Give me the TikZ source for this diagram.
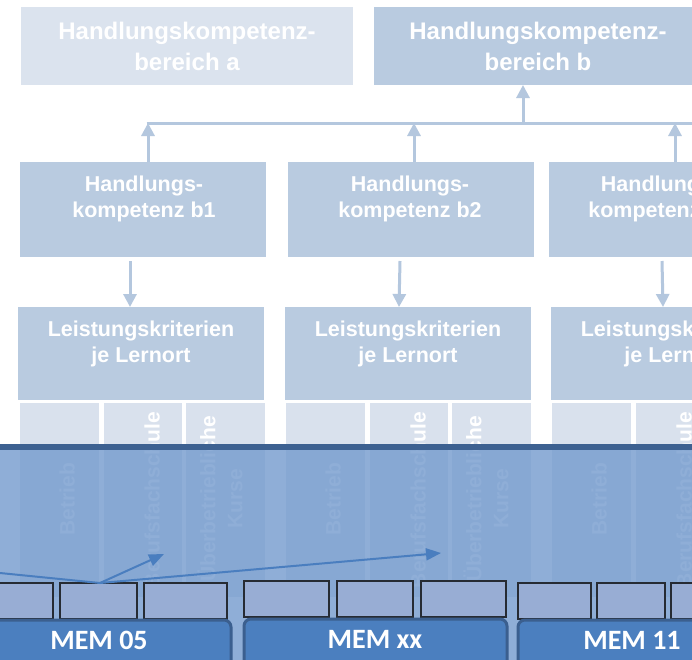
\documentclass[tikz,border=0pt]{standalone}
\usepackage{fontspec}
\setmainfont{Liberation Sans}
\newfontfamily\memfont{Carlito}
\usetikzlibrary{arrows.meta}
\definecolor{boxa}{HTML}{DBE3EE}
\definecolor{boxb}{HTML}{B9CBE0}
\definecolor{colf}{HTML}{D9E1ED}
\definecolor{arrl}{HTML}{B4C7DE}
\definecolor{ovl}{RGB}{115,154,205}
\definecolor{ovline}{HTML}{3D6191}
\definecolor{smallf}{HTML}{98ADD4}
\definecolor{smalld}{HTML}{262B33}
\definecolor{memf}{HTML}{4B7FBF}
\definecolor{memd}{HTML}{3B5F8F}
\definecolor{blarr}{HTML}{4A7EBF}
\begin{document}
\begin{tikzpicture}[x=1pt,y=-1pt,
  rbox/.style={inner sep=0pt, outer sep=0pt, anchor=north west},
  topbox/.style={rbox, minimum width=332pt, minimum height=78pt},
  midbox/.style={rbox, fill=boxb, minimum width=246pt, minimum height=95pt},
  lkbox/.style={rbox, fill=boxb, minimum width=246pt, minimum height=93pt},
  colbox/.style={rbox, fill=colf, minimum width=79pt, minimum height=194pt},
  toptxt/.style={text=white, align=center, font=\fontsize{24}{31}\selectfont\bfseries},
  midtxt/.style={text=white, align=center, font=\fontsize{21.5}{26}\selectfont\bfseries},
  coltxt/.style={text=white, align=center, rotate=90, font=\fontsize{21}{27}\selectfont\bfseries},
  lline/.style={draw=arrl, line width=3pt},
  larr/.style={draw=arrl, line width=3pt, -{Triangle[width=13pt,length=13pt]}},
  barr/.style={draw=blarr, line width=2pt, -{Triangle[width=12pt,length=15pt]}},
  sbox/.style={rbox, fill=smallf, draw=smalld, line width=1.5pt, minimum height=36pt},
  membox/.style={rbox, fill=memf, draw=memd, line width=3pt, rounded corners=7pt, minimum height=60pt},
  memtxt/.style={text=white, font=\fontsize{28}{32}\memfont\bfseries}
]
\useasboundingbox (0,0) rectangle (692,659);
\clip (0,0) rectangle (692,659);
\fill[white] (0,0) rectangle (692,659);

% top level
\node[topbox, fill=boxa] (A) at (21,7) {};
\node[topbox, fill=boxb] (B) at (374,7) {};
\node[toptxt] (tA) at (187,46) {Handlungskompetenz-\\bereich a};
\node[toptxt] (tB) at (538,46) {Handlungskompetenz-\\bereich b};

% middle level
\node[midbox] (hb1) at (20,162) {};
\node[midbox] (hb2) at (288,162) {};
\node[midbox] (hb3) at (549,162) {};
\node[midtxt] (thb1) at (144,199) {Handlungs-\\kompetenz b1};
\node[midtxt] (thb2) at (410,199) {Handlungs-\\kompetenz b2};
\node[midtxt] (thb3) at (660,199) {Handlungs-\\kompetenz b3};

% criteria level
\node[lkbox] (lk1) at (18,307) {};
\node[lkbox] (lk2) at (285,307) {};
\node[lkbox] (lk3) at (551,307) {};
\node[midtxt] (tlk1) at (141,344) {Leistungskriterien\\je Lernort};
\node[midtxt] (tlk2) at (408,344) {Leistungskriterien\\je Lernort};
\node[midtxt] (tlk3) at (674,344) {Leistungskriterien\\je Lernort};

% connectors (light)
\coordinate (h1) at (148,123);
\coordinate (h2) at (414,123);
\coordinate (h3) at (675,123);
\coordinate (hB) at (523,123);
\coordinate (hR) at (700,123);
\draw[lline] ([xshift=-1.5pt]h1) -- (hR);
\draw[larr] (h1 |- hb1.north) -- (h1);
\draw[larr] (h2 |- hb2.north) -- (h2);
\draw[larr] (h3 |- hb3.north) -- (h3);
\draw[larr] (hB) -- (hB |- B.south);
\draw[larr] ([xshift=-13pt,yshift=-4pt]hb1.south) -- ([xshift=-11pt]lk1.north);
\draw[larr] ([xshift=-11pt,yshift=-4pt]hb2.south) -- ([xshift=-9pt]lk2.north);
\draw[larr] ([xshift=-10pt,yshift=-4pt]hb3.south) -- ([xshift=-11pt]lk3.north);

% learning place columns
\foreach \b/\o in {1/0,2/266,3/532}{
  \node[colbox] (c\b a) at (20+\o,403) {};
  \node[colbox, minimum width=78pt] (c\b b) at (104+\o,403) {};
  \node[colbox] (c\b c) at (186+\o,403) {};
  \node[coltxt] (t\b a) at (67+\o,499) {Betrieb};
  \node[coltxt] (t\b b) at (152+\o,500) {Berufsfachschule};
  \node[coltxt] (t\b c) at (220+\o,499) {Überbetriebliche\\Kurse};
}

% overlay
\node[rbox, fill=ovl, fill opacity=0.8, minimum width=700pt, minimum height=240pt] (ov) at (-4,444) {};
\draw[ovline, line width=6pt] ([yshift=-3pt]ov.north west) -- ([yshift=-3pt]ov.north east);

% small boxes
\node[sbox, minimum width=63pt] (s1) at (-10,583) {};
\node[sbox, minimum width=77pt] (s2) at (60,583) {};
\node[sbox, minimum width=83pt] (s3) at (144,583) {};
\node[sbox, minimum width=85pt] (s4) at (244,581) {};
\node[sbox, minimum width=76pt] (s5) at (337,581) {};
\node[sbox, minimum width=85pt] (s6) at (421,581) {};
\node[sbox, minimum width=73pt] (s7) at (518,583) {};
\node[sbox, minimum width=68pt] (s8) at (597,583) {};
\node[sbox, minimum width=60pt] (s9) at (671,583) {};

% blue arrows
\coordinate (t0) at (-10,572);
\coordinate (t1) at (164,554);
\coordinate (t2) at (441,553);
\draw[blarr, line width=2pt] ([xshift=1.5pt]s2.north) -- (t0);
\draw[barr] ([xshift=1.5pt]s2.north) -- (t1);
\draw[barr] ([xshift=1.5pt]s2.north) -- (t2);

% module boxes
\node[membox, minimum width=265pt] (m1) at (-34,620) {};
\node[membox, minimum width=263pt] (m2) at (244,619) {};
\node[membox, minimum width=265pt] (m3) at (518,620) {};
\node[memtxt] (tm1) at (99,640) {MEM 05};
\node[memtxt] (tm2) at (375,639) {MEM xx};
\node[memtxt] (tm3) at (632,640) {MEM 11};
\end{tikzpicture}
\end{document}
